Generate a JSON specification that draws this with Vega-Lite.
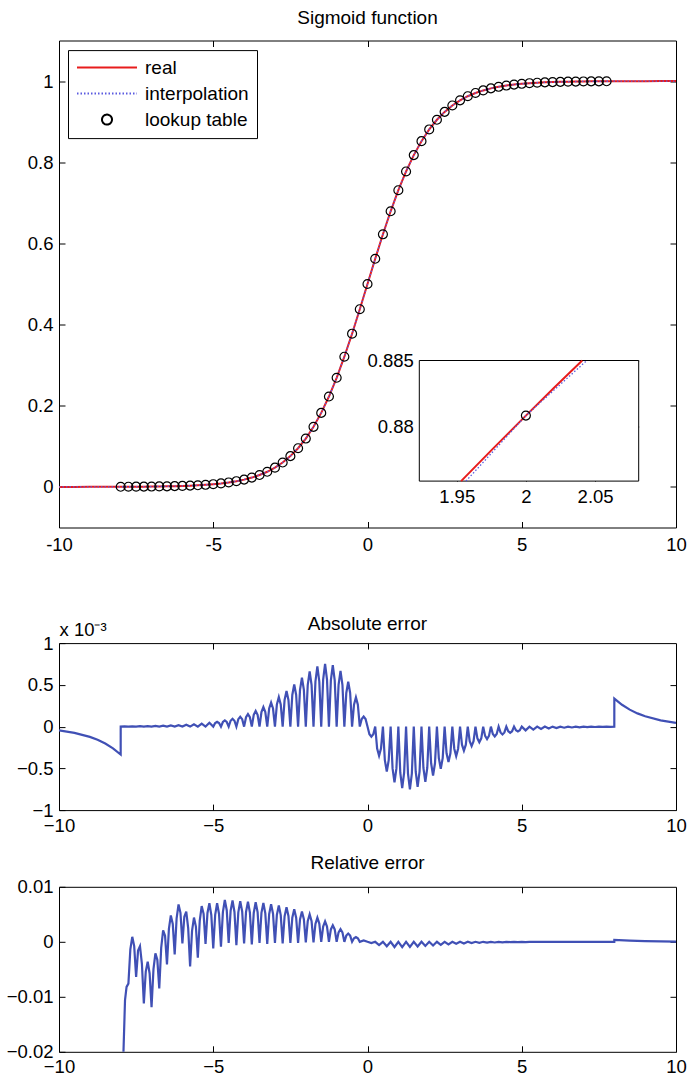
{
"$schema":"https://vega.github.io/schema/vega-lite/v6.json",
"padding":{"left":5,"top":7.5,"right":0,"bottom":0},
"background":"white",
"config":{
 "font":"Liberation Sans",
 "view":{"stroke":"black","strokeWidth":1},
 "axis":{"labelFont":"Liberation Sans","labelFontSize":18.5,"labelColor":"black","tickColor":"black","tickSize":-6,"tickWidth":1,"domain":false,"grid":false,"labelPadding":12,"labelFlush":false,"labelOverlap":false,"zindex":1},
 "title":{"font":"Liberation Sans","fontSize":19,"fontWeight":"normal","color":"black","anchor":"middle","baseline":"alphabetic"}
},
"datasets":{
"sig":[{"x":-10,"y":0.0000454},{"x":-9.5,"y":0.0000749},{"x":-9,"y":0.0001234},{"x":-8.5,"y":0.0002034},{"x":-8,"y":0.000335},{"x":-7.75,"y":0.00043},{"x":-7.5,"y":0.000553},{"x":-7.25,"y":0.00071},{"x":-7,"y":0.000911},{"x":-6.75,"y":0.00117},{"x":-6.5,"y":0.001501},{"x":-6.25,"y":0.001927},{"x":-6,"y":0.002473},{"x":-5.75,"y":0.003173},{"x":-5.5,"y":0.00407},{"x":-5.25,"y":0.00522},{"x":-5,"y":0.006693},{"x":-4.75,"y":0.008577},{"x":-4.5,"y":0.010987},{"x":-4.25,"y":0.014064},{"x":-4,"y":0.017986},{"x":-3.75,"y":0.022977},{"x":-3.5,"y":0.029312},{"x":-3.25,"y":0.037327},{"x":-3,"y":0.047426},{"x":-2.75,"y":0.060087},{"x":-2.5,"y":0.075858},{"x":-2.25,"y":0.095349},{"x":-2,"y":0.119203},{"x":-1.75,"y":0.148047},{"x":-1.5,"y":0.182426},{"x":-1.25,"y":0.2227},{"x":-1,"y":0.268941},{"x":-0.75,"y":0.320821},{"x":-0.5,"y":0.377541},{"x":-0.25,"y":0.437823},{"x":0,"y":0.5},{"x":0.25,"y":0.562177},{"x":0.5,"y":0.622459},{"x":0.75,"y":0.679179},{"x":1,"y":0.731059},{"x":1.25,"y":0.7773},{"x":1.5,"y":0.817574},{"x":1.75,"y":0.851953},{"x":2,"y":0.880797},{"x":2.25,"y":0.904651},{"x":2.5,"y":0.924142},{"x":2.75,"y":0.939913},{"x":3,"y":0.952574},{"x":3.25,"y":0.962673},{"x":3.5,"y":0.970688},{"x":3.75,"y":0.977023},{"x":4,"y":0.982014},{"x":4.25,"y":0.985936},{"x":4.5,"y":0.989013},{"x":4.75,"y":0.991423},{"x":5,"y":0.993307},{"x":5.25,"y":0.99478},{"x":5.5,"y":0.99593},{"x":5.75,"y":0.996827},{"x":6,"y":0.997527},{"x":6.25,"y":0.998073},{"x":6.5,"y":0.998499},{"x":6.75,"y":0.99883},{"x":7,"y":0.999089},{"x":7.25,"y":0.99929},{"x":7.5,"y":0.999447},{"x":7.75,"y":0.99957},{"x":8,"y":0.999665},{"x":8.5,"y":0.9997966},{"x":9,"y":0.9998766},{"x":9.5,"y":0.9999251},{"x":10,"y":0.9999546}],
"inbox":[{"x1":1.923,"x2":2.0815,"y1":0.8758,"y2":0.885}],
"inreal":[{"x":1.9532,"y":0.8758},{"x":1.975,"y":0.878147},{"x":2,"y":0.880797},{"x":2.02,"y":0.882881},{"x":2.0407,"y":0.885}],
"ininterp":[{"x":1.9567,"y":0.8758},{"x":2,"y":0.880797},{"x":2.044,"y":0.885}],
"inpt":[{"x":2,"y":0.880797}],
"abs":[{"x":-10,"y":-4.54e-5},{"x":-9.5,"y":-7.48e-5},{"x":-9,"y":-1.234e-4},{"x":-8.75,"y":-1.585e-4},{"x":-8.5,"y":-2.034e-4},{"x":-8.25,"y":-2.611e-4},{"x":-8.001,"y":-3.35e-4},
{"x":-8,"y":0},{"x":-7.875,"y":3e-6},{"x":-7.75,"y":0},{"x":-7.625,"y":3.8e-6},{"x":-7.5,"y":0},{"x":-7.375,"y":4.9e-6},{"x":-7.25,"y":0},{"x":-7.125,"y":6.3e-6},{"x":-7,"y":0},{"x":-6.875,"y":8.1e-6},{"x":-6.75,"y":0},{"x":-6.625,"y":1.03e-5},{"x":-6.5,"y":0},{"x":-6.375,"y":1.32e-5},{"x":-6.25,"y":0},{"x":-6.125,"y":1.7e-5},{"x":-6,"y":0},{"x":-5.875,"y":2.17e-5},{"x":-5.75,"y":0},{"x":-5.625,"y":2.78e-5},{"x":-5.5,"y":0},{"x":-5.375,"y":3.55e-5},{"x":-5.25,"y":0},{"x":-5.125,"y":4.54e-5},{"x":-5,"y":0},
{"x":-4.9375,"y":4.34e-5},{"x":-4.875,"y":5.78e-5},{"x":-4.8125,"y":4.34e-5},{"x":-4.75,"y":0},
{"x":-4.6875,"y":5.52e-5},{"x":-4.625,"y":7.36e-5},{"x":-4.5625,"y":5.52e-5},{"x":-4.5,"y":0},
{"x":-4.4375,"y":7.01e-5},{"x":-4.375,"y":9.35e-5},{"x":-4.3125,"y":7.01e-5},{"x":-4.25,"y":0},
{"x":-4.1875,"y":8.88e-5},{"x":-4.125,"y":1.184e-4},{"x":-4.0625,"y":8.88e-5},{"x":-4,"y":0},
{"x":-3.9375,"y":1.12e-4},{"x":-3.875,"y":1.493e-4},{"x":-3.8125,"y":1.12e-4},{"x":-3.75,"y":0},
{"x":-3.6875,"y":1.405e-4},{"x":-3.625,"y":1.873e-4},{"x":-3.5625,"y":1.405e-4},{"x":-3.5,"y":0},
{"x":-3.4375,"y":1.75e-4},{"x":-3.375,"y":2.334e-4},{"x":-3.3125,"y":1.75e-4},{"x":-3.25,"y":0},
{"x":-3.1875,"y":2.164e-4},{"x":-3.125,"y":2.885e-4},{"x":-3.0625,"y":2.164e-4},{"x":-3,"y":0},
{"x":-2.9375,"y":2.646e-4},{"x":-2.875,"y":3.528e-4},{"x":-2.8125,"y":2.646e-4},{"x":-2.75,"y":0},
{"x":-2.6875,"y":3.192e-4},{"x":-2.625,"y":4.256e-4},{"x":-2.5625,"y":3.192e-4},{"x":-2.5,"y":0},
{"x":-2.4375,"y":3.785e-4},{"x":-2.375,"y":5.047e-4},{"x":-2.3125,"y":3.785e-4},{"x":-2.25,"y":0},
{"x":-2.1875,"y":4.392e-4},{"x":-2.125,"y":5.856e-4},{"x":-2.0625,"y":4.392e-4},{"x":-2,"y":0},
{"x":-1.9375,"y":4.959e-4},{"x":-1.875,"y":6.612e-4},{"x":-1.8125,"y":4.959e-4},{"x":-1.75,"y":0},
{"x":-1.6875,"y":5.404e-4},{"x":-1.625,"y":7.205e-4},{"x":-1.5625,"y":5.404e-4},{"x":-1.5,"y":0},
{"x":-1.4375,"y":5.629e-4},{"x":-1.375,"y":7.505e-4},{"x":-1.3125,"y":5.629e-4},{"x":-1.25,"y":0},
{"x":-1.1875,"y":5.527e-4},{"x":-1.125,"y":7.369e-4},{"x":-1.0625,"y":5.527e-4},{"x":-1,"y":0},
{"x":-0.9375,"y":5.008e-4},{"x":-0.875,"y":6.677e-4},{"x":-0.8125,"y":5.008e-4},{"x":-0.75,"y":0},
{"x":-0.6875,"y":4.028e-4},{"x":-0.625,"y":5.37e-4},{"x":-0.5625,"y":4.028e-4},{"x":-0.5,"y":0},
{"x":-0.4375,"y":2.621e-4},{"x":-0.375,"y":3.495e-4},{"x":-0.3125,"y":2.621e-4},{"x":-0.25,"y":0},
{"x":-0.1875,"y":9.11e-5},{"x":-0.125,"y":1.214e-4},{"x":-0.0625,"y":9.11e-5},{"x":0,"y":0},
{"x":0.0625,"y":-9.11e-5},{"x":0.125,"y":-1.214e-4},{"x":0.1875,"y":-9.11e-5},{"x":0.25,"y":0},
{"x":0.3125,"y":-2.621e-4},{"x":0.375,"y":-3.495e-4},{"x":0.4375,"y":-2.621e-4},{"x":0.5,"y":0},
{"x":0.5625,"y":-4.028e-4},{"x":0.625,"y":-5.37e-4},{"x":0.6875,"y":-4.028e-4},{"x":0.75,"y":0},
{"x":0.8125,"y":-5.008e-4},{"x":0.875,"y":-6.677e-4},{"x":0.9375,"y":-5.008e-4},{"x":1,"y":0},
{"x":1.0625,"y":-5.527e-4},{"x":1.125,"y":-7.369e-4},{"x":1.1875,"y":-5.527e-4},{"x":1.25,"y":0},
{"x":1.3125,"y":-5.629e-4},{"x":1.375,"y":-7.505e-4},{"x":1.4375,"y":-5.629e-4},{"x":1.5,"y":0},
{"x":1.5625,"y":-5.404e-4},{"x":1.625,"y":-7.205e-4},{"x":1.6875,"y":-5.404e-4},{"x":1.75,"y":0},
{"x":1.8125,"y":-4.959e-4},{"x":1.875,"y":-6.612e-4},{"x":1.9375,"y":-4.959e-4},{"x":2,"y":0},
{"x":2.0625,"y":-4.392e-4},{"x":2.125,"y":-5.856e-4},{"x":2.1875,"y":-4.392e-4},{"x":2.25,"y":0},
{"x":2.3125,"y":-3.785e-4},{"x":2.375,"y":-5.047e-4},{"x":2.4375,"y":-3.785e-4},{"x":2.5,"y":0},
{"x":2.5625,"y":-3.192e-4},{"x":2.625,"y":-4.256e-4},{"x":2.6875,"y":-3.192e-4},{"x":2.75,"y":0},
{"x":2.8125,"y":-2.646e-4},{"x":2.875,"y":-3.528e-4},{"x":2.9375,"y":-2.646e-4},{"x":3,"y":0},
{"x":3.0625,"y":-2.164e-4},{"x":3.125,"y":-2.885e-4},{"x":3.1875,"y":-2.164e-4},{"x":3.25,"y":0},
{"x":3.3125,"y":-1.75e-4},{"x":3.375,"y":-2.334e-4},{"x":3.4375,"y":-1.75e-4},{"x":3.5,"y":0},
{"x":3.5625,"y":-1.405e-4},{"x":3.625,"y":-1.873e-4},{"x":3.6875,"y":-1.405e-4},{"x":3.75,"y":0},
{"x":3.8125,"y":-1.12e-4},{"x":3.875,"y":-1.493e-4},{"x":3.9375,"y":-1.12e-4},{"x":4,"y":0},
{"x":4.0625,"y":-8.88e-5},{"x":4.125,"y":-1.184e-4},{"x":4.1875,"y":-8.88e-5},{"x":4.25,"y":0},
{"x":4.3125,"y":-7.01e-5},{"x":4.375,"y":-9.35e-5},{"x":4.4375,"y":-7.01e-5},{"x":4.5,"y":0},
{"x":4.5625,"y":-5.52e-5},{"x":4.625,"y":-7.36e-5},{"x":4.6875,"y":-5.52e-5},{"x":4.75,"y":0},
{"x":4.8125,"y":-4.34e-5},{"x":4.875,"y":-5.78e-5},{"x":4.9375,"y":-4.34e-5},{"x":5,"y":0},
{"x":5.125,"y":-4.54e-5},{"x":5.25,"y":0},{"x":5.375,"y":-3.55e-5},{"x":5.5,"y":0},{"x":5.625,"y":-2.78e-5},{"x":5.75,"y":0},{"x":5.875,"y":-2.17e-5},{"x":6,"y":0},{"x":6.125,"y":-1.7e-5},{"x":6.25,"y":0},{"x":6.375,"y":-1.32e-5},{"x":6.5,"y":0},{"x":6.625,"y":-1.03e-5},{"x":6.75,"y":0},{"x":6.875,"y":-8.1e-6},{"x":7,"y":0},{"x":7.125,"y":-6.3e-6},{"x":7.25,"y":0},{"x":7.375,"y":-4.9e-6},{"x":7.5,"y":0},{"x":7.625,"y":-3.8e-6},{"x":7.75,"y":0},{"x":7.875,"y":-3e-6},{"x":8,"y":0},
{"x":8.001,"y":3.35e-4},{"x":8.25,"y":2.611e-4},{"x":8.5,"y":2.034e-4},{"x":8.75,"y":1.585e-4},{"x":9,"y":1.234e-4},{"x":9.5,"y":7.48e-5},{"x":10,"y":4.54e-5}],
"rel":[{"x":-10,"y":-1},{"x":-8,"y":-1},{"x":-7.93,"y":-0.03},{"x":-7.91,"y":-0.02},{"x":-7.86,"y":-0.0106},{"x":-7.81,"y":-0.0082},{"x":-7.75,"y":-0.0076},
{"x":-7.6875,"y":-0.001375},{"x":-7.625,"y":0.0009},{"x":-7.5625,"y":-0.000775},{"x":-7.5,"y":-0.0064},
{"x":-7.4375,"y":-0.0016},{"x":-7.375,"y":-0.0008},{"x":-7.3125,"y":-0.004},{"x":-7.25,"y":-0.0112},
{"x":-7.1875,"y":-0.00541},{"x":-7.125,"y":-0.0036},{"x":-7.0625,"y":-0.00576},{"x":-7,"y":-0.0119},
{"x":-6.9375,"y":-0.004975},{"x":-6.875,"y":-0.0021},{"x":-6.8125,"y":-0.003275},{"x":-6.75,"y":-0.0085},
{"x":-6.6875,"y":-0.0011},{"x":-6.625,"y":0.0021},{"x":-6.5625,"y":0.0011},{"x":-6.5,"y":-0.0041},
{"x":-6.4375,"y":0.00235},{"x":-6.375,"y":0.0048},{"x":-6.3125,"y":0.00325},{"x":-6.25,"y":-0.0023},
{"x":-6.1875,"y":0.004275},{"x":-6.125,"y":0.0068},{"x":-6.0625,"y":0.005275},{"x":-6,"y":-0.0003},
{"x":-5.9375,"y":0.004575},{"x":-5.875,"y":0.0055},{"x":-5.8125,"y":0.002475},{"x":-5.75,"y":-0.0045},
{"x":-5.6875,"y":0.001975},{"x":-5.625,"y":0.0044},{"x":-5.5625,"y":0.002775},{"x":-5.5,"y":-0.0029},
{"x":-5.4375,"y":0.0038375},{"x":-5.375,"y":0.0065},{"x":-5.3125,"y":0.0050875},{"x":-5.25,"y":-0.0004},
{"x":-5.1875,"y":0.00525},{"x":-5.125,"y":0.007},{"x":-5.0625,"y":0.00485},{"x":-5,"y":-0.0012},
{"x":-4.9375,"y":0.0049125},{"x":-4.875,"y":0.007},{"x":-4.8125,"y":0.0050625},{"x":-4.75,"y":-0.0009},
{"x":-4.6875,"y":0.0053875},{"x":-4.625,"y":0.0076},{"x":-4.5625,"y":0.0057375},{"x":-4.5,"y":-0.0002},
{"x":-4.4375,"y":0.005625},{"x":-4.375,"y":0.0075},{"x":-4.3125,"y":0.005425},{"x":-4.25,"y":-0.0006},
{"x":-4.1875,"y":0.00536},{"x":-4.125,"y":0.0074},{"x":-4.0625,"y":0.00551},{"x":-4,"y":-0.0003},
{"x":-3.9375,"y":0.00543},{"x":-3.875,"y":0.0073},{"x":-3.8125,"y":0.00533},{"x":-3.75,"y":-0.0005},
{"x":-3.6875,"y":0.00524},{"x":-3.625,"y":0.0072},{"x":-3.5625,"y":0.00539},{"x":-3.5,"y":-0.0002},
{"x":-3.4375,"y":0.00526},{"x":-3.375,"y":0.00705},{"x":-3.3125,"y":0.00516},{"x":-3.25,"y":-0.0004},
{"x":-3.1875,"y":0.00501},{"x":-3.125,"y":0.00685},{"x":-3.0625,"y":0.00511},{"x":-3,"y":-0.0002},
{"x":-2.9375,"y":0.00491},{"x":-2.875,"y":0.0066},{"x":-2.8125,"y":0.00486},{"x":-2.75,"y":-0.0003},
{"x":-2.6875,"y":0.00464},{"x":-2.625,"y":0.0063},{"x":-2.5625,"y":0.00469},{"x":-2.5,"y":-0.0002},
{"x":-2.4375,"y":0.004375},{"x":-2.375,"y":0.0059},{"x":-2.3125,"y":0.004375},{"x":-2.25,"y":-0.0002},
{"x":-2.1875,"y":0.00406},{"x":-2.125,"y":0.0055},{"x":-2.0625,"y":0.00411},{"x":-2,"y":-0.0001},
{"x":-1.9375,"y":0.003725},{"x":-1.875,"y":0.005},{"x":-1.8125,"y":0.003725},{"x":-1.75,"y":-0.0001},
{"x":-1.6875,"y":0.00326},{"x":-1.625,"y":0.0044},{"x":-1.5625,"y":0.00331},{"x":-1.5,"y":0},
{"x":-1.4375,"y":0.002775},{"x":-1.375,"y":0.0037},{"x":-1.3125,"y":0.002775},{"x":-1.25,"y":0},
{"x":-1.1875,"y":0.00225},{"x":-1.125,"y":0.003},{"x":-1.0625,"y":0.00225},{"x":-1,"y":0},
{"x":-0.9375,"y":0.001725},{"x":-0.875,"y":0.0023},{"x":-0.8125,"y":0.001725},{"x":-0.75,"y":0},
{"x":-0.6875,"y":0.001125},{"x":-0.625,"y":0.0015},{"x":-0.5625,"y":0.001125},{"x":-0.5,"y":0},
{"x":-0.4375,"y":0.000645},{"x":-0.375,"y":0.00086},{"x":-0.3125,"y":0.000645},{"x":-0.25,"y":0},
{"x":-0.125,"y":0.00026},{"x":0,"y":0},
{"x":0.125,"y":-0.00023},{"x":0.25,"y":0},{"x":0.375,"y":-0.00059},{"x":0.5,"y":0},{"x":0.625,"y":-0.00082},{"x":0.75,"y":0},{"x":0.875,"y":-0.00095},{"x":1,"y":0},{"x":1.125,"y":-0.00098},{"x":1.25,"y":0},{"x":1.375,"y":-0.00094},{"x":1.5,"y":0},{"x":1.625,"y":-0.00086},{"x":1.75,"y":0},{"x":1.875,"y":-0.00076},{"x":2,"y":0},{"x":2.125,"y":-0.00066},{"x":2.25,"y":0},{"x":2.375,"y":-0.00055},{"x":2.5,"y":0},{"x":2.625,"y":-0.00046},{"x":2.75,"y":0},{"x":2.875,"y":-0.00037},{"x":3,"y":0},{"x":3.125,"y":-0.0003},{"x":3.25,"y":0},{"x":3.375,"y":-0.00024},{"x":3.5,"y":0},{"x":3.625,"y":-0.00019},{"x":3.75,"y":0},{"x":3.875,"y":-0.00015},{"x":4,"y":0},{"x":4.125,"y":-0.00012},{"x":4.25,"y":0},{"x":4.375,"y":-0.000095},{"x":4.5,"y":0},{"x":4.625,"y":-0.000074},{"x":4.75,"y":0},{"x":4.875,"y":-0.000058},{"x":5,"y":0},{"x":5.125,"y":-0.000045},{"x":5.25,"y":0},{"x":8,"y":0},
{"x":8.001,"y":0.000335},{"x":8.5,"y":0.000203},{"x":9,"y":0.000123},{"x":9.5,"y":0.0000748},{"x":10,"y":0.0000454}]
},
"spacing":115.6,
"bounds":"flush",
"resolve":{"scale":{"x":"independent","y":"independent"}},
"vconcat":[
{
 "width":617,"height":487,
 "title":{"text":"Sigmoid function","offset":12.4},
 "resolve":{"scale":{"x":"independent","y":"independent"}},
 "layer":[
  {"layer":[
   {"data":{"name":"sig"},"mark":{"type":"line","strokeWidth":2,"clip":true},
    "encoding":{
     "x":{"field":"x","type":"quantitative","scale":{"domain":[-10,10],"nice":false,"zero":false},"axis":{"orient":"bottom","values":[-10,-5,0,5,10],"labelExpr":"datum.value + ''","labelPadding":14,"title":null}},
     "y":{"field":"y","type":"quantitative","scale":{"domain":[-0.1,1.1],"nice":false,"zero":false},"axis":{"orient":"left","values":[0,0.2,0.4,0.6,0.8,1],"format":"~g","title":null}},
     "color":{"datum":"real","type":"nominal","scale":{"domain":["real","interpolation","lookup table"],"range":["#e81c1c","#5a5ae0","#000000"]},
      "legend":{"orient":"none","legendX":9,"legendY":9.6,"title":null,"strokeColor":"black","fillColor":"white","padding":8,"cornerRadius":0,
       "labelFont":"Liberation Sans","labelFontSize":19,"labelColor":"black","symbolSize":3600,"symbolType":"stroke","symbolStrokeWidth":2,"labelOffset":7,"rowPadding":6,"clipHeight":19,
       "encode":{"symbols":{"update":{
         "shape":{"signal":"datum.value === 'lookup table' ? 'M0.1667,0A0.1667,0.1667,0,1,1,-0.1667,0A0.1667,0.1667,0,1,1,0.1667,0Z' : 'stroke'"},
         "stroke":{"signal":"datum.value === 'real' ? '#e81c1c' : datum.value === 'interpolation' ? '#5a5ae0' : '#000000'"},
         "strokeDash":{"signal":"datum.value === 'interpolation' ? [1.5, 2] : [1, 0]"},
         "fill":{"value":"transparent"},
         "opacity":{"value":1}}}}}}}},
   {"data":{"name":"sig"},"mark":{"type":"line","strokeWidth":1.3,"strokeDash":[1.5,2],"clip":true},
    "encoding":{
     "x":{"field":"x","type":"quantitative","axis":{"orient":"top","values":[-5,0,5],"labels":false,"title":null}},
     "y":{"field":"y","type":"quantitative","axis":{"orient":"right","values":[0,0.2,0.4,0.6,0.8,1],"labels":false,"title":null}},
     "color":{"datum":"interpolation","type":"nominal"}}},
   {"data":{"name":"sig"},"transform":[{"filter":{"field":"x","range":[-8,7.75]}}],
    "mark":{"type":"point","filled":false,"size":80,"strokeWidth":1.2,"opacity":1},
    "encoding":{
     "x":{"field":"x","type":"quantitative","axis":null},
     "y":{"field":"y","type":"quantitative","axis":null},
     "color":{"datum":"lookup table","type":"nominal"}}}
  ]},
  {"layer":[
   {"data":{"name":"inbox"},"mark":{"type":"rect","fill":"white","stroke":"black","strokeWidth":1},
    "encoding":{
     "x":{"field":"x1","type":"quantitative","scale":{"domain":[1.923,2.0815],"range":[360.3,579.7],"nice":false,"zero":false},"axis":{"orient":"bottom","offset":-46.4,"values":[1.95,2,2.05],"format":"~g","title":null}},
     "x2":{"field":"x2"},
     "y":{"field":"y1","type":"quantitative","scale":{"domain":[0.8758,0.885],"range":[440.6,320],"nice":false,"zero":false},"axis":{"orient":"left","offset":-360.3,"values":[0.88,0.885],"format":"~g","title":null}},
     "y2":{"field":"y2"}}},
   {"data":{"name":"inreal"},"mark":{"type":"line","color":"#e81c1c","strokeWidth":2},
    "encoding":{
     "x":{"field":"x","type":"quantitative","axis":{"orient":"top","offset":-320,"values":[1.95,2,2.05],"labels":false,"title":null}},
     "y":{"field":"y","type":"quantitative","axis":{"orient":"right","offset":-37.3,"values":[0.88,0.885],"labels":false,"title":null}}}},
   {"data":{"name":"ininterp"},"mark":{"type":"line","color":"#5a5ae0","strokeWidth":1.3,"strokeDash":[1.5,2]},
    "encoding":{"x":{"field":"x","type":"quantitative","axis":null},"y":{"field":"y","type":"quantitative","axis":null}}},
   {"data":{"name":"inpt"},"mark":{"type":"point","filled":false,"size":80,"strokeWidth":1.2,"color":"black","opacity":1},
    "encoding":{"x":{"field":"x","type":"quantitative","axis":null},"y":{"field":"y","type":"quantitative","axis":null}}}
  ]}
 ]
},
{
 "spacing":76.7,
 "bounds":"flush",
 "resolve":{"scale":{"x":"independent","y":"independent"}},
 "vconcat":[
  {
   "width":617,"height":167,
   "title":{"text":"Absolute error","offset":-14},
   "layer":[
    {"data":{"name":"abs"},"mark":{"type":"line","color":"#4050b5","strokeWidth":2.2,"clip":true},
     "encoding":{
      "x":{"field":"x","type":"quantitative","scale":{"domain":[-10,10],"nice":false,"zero":false},"axis":{"orient":"bottom","values":[-10,-5,0,5,10],"format":"d","title":null}},
      "y":{"field":"y","type":"quantitative","scale":{"domain":[-0.001,0.001],"nice":false,"zero":false},"axis":{"orient":"left","values":[-0.001,-0.0005,0,0.0005,0.001],"labelExpr":"format(datum.value*1000,'~g')","title":"x 10⁻³","titleAngle":0,"titleAlign":"left","titleBaseline":"alphabetic","titleX":0,"titleY":-8,"titleFont":"Liberation Sans","titleFontSize":18.5,"titleFontWeight":"normal","titleColor":"black"}}}},
    {"data":{"values":[{"x":0,"y":0}]},"mark":{"type":"point","opacity":0},
     "encoding":{
      "x":{"field":"x","type":"quantitative","axis":{"orient":"top","values":[-5,0,5],"labels":false,"title":null}},
      "y":{"field":"y","type":"quantitative","axis":{"orient":"right","values":[-0.0005,0,0.0005],"labels":false,"title":null}}}}
   ]
  },
  {
   "width":617,"height":165,
   "title":{"text":"Relative error","offset":5},
   "layer":[
    {"data":{"name":"rel"},"mark":{"type":"line","color":"#4050b5","strokeWidth":2.2,"clip":true},
     "encoding":{
      "x":{"field":"x","type":"quantitative","scale":{"domain":[-10,10],"nice":false,"zero":false},"axis":{"orient":"bottom","values":[-10,-5,0,5,10],"format":"d","title":null}},
      "y":{"field":"y","type":"quantitative","scale":{"domain":[-0.02,0.01],"nice":false,"zero":false},"axis":{"orient":"left","values":[-0.02,-0.01,0,0.01],"format":"~g","title":null}}}},
    {"data":{"values":[{"x":0,"y":0}]},"mark":{"type":"point","opacity":0},
     "encoding":{
      "x":{"field":"x","type":"quantitative","axis":{"orient":"top","values":[-5,0,5],"labels":false,"title":null}},
      "y":{"field":"y","type":"quantitative","axis":{"orient":"right","values":[-0.01,0],"labels":false,"title":null}}}}
   ]
  }
 ]
}
]
}
